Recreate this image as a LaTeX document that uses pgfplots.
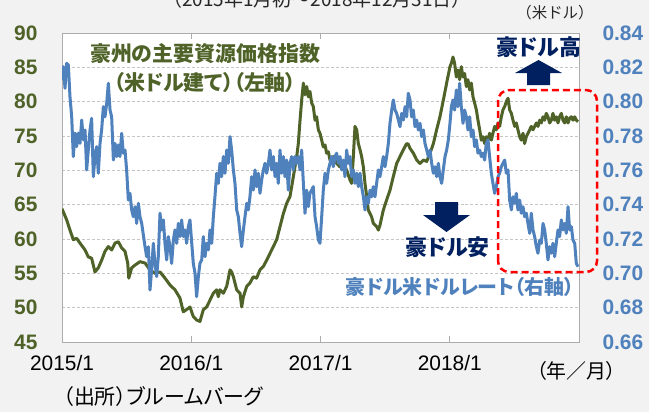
\documentclass[border=0pt]{standalone}
\usepackage{fontspec}
\setmainfont{Liberation Sans}
\newfontfamily\jp{Noto Sans CJK JP}[RawFeature=+palt]
\newfontfamily\jpf{Noto Sans CJK JP}
\usepackage{pgfplots}
\pgfplotsset{compat=1.18}
\definecolor{olv}{HTML}{4F6228}
\definecolor{blu}{HTML}{4F81BD}
\definecolor{nvy}{HTML}{002060}
\definecolor{bg}{HTML}{F2F2F2}
\newcommand{\fs}[1]{\fontsize{#1}{#1}\selectfont}
\begin{document}
\begin{tikzpicture}[x=1bp,y=1bp]
\fill[bg] (0,0) rectangle (649,412);
\begin{axis}[
  at={(62bp,70bp)}, anchor=south west,
  width=517bp, height=309bp, scale only axis,
  xmin=0, xmax=48, ymin=45, ymax=90,
  axis background/.style={fill=white},
  axis line style={draw=gray!65, line width=0.9bp},
  ytick={45,50,...,90},
  ymajorgrids, major grid style={densely dashed, draw=gray!45, line width=0.6bp},
  xtick={0,12,24,36}, xticklabels={2015/1,2016/1,2017/1,2018/1},
  tick align=inside, major tick length=6bp,
  xtick style={draw=gray!65, line width=0.9bp},
  ytick style={draw=none},
  /pgf/number format/assume math mode=true,
  yticklabel style={font=\fs{21}\bfseries, text=olv, xshift=-21bp},
  xticklabel style={font=\fs{21}, text=black, yshift=-10bp},
]
\addplot[olv, line width=3bp, line join=round] coordinates {
(0,64.4)(0.43,62.8)(0.74,61.3)(1.05,59.9)(1.36,60.1)(1.67,59.4)(2.14,58.4)(2.44,57.4)(2.75,57.2)(3.06,55.2)(3.37,55.8)(3.68,56.9)(3.99,58.2)(4.30,58.9)(4.61,58.4)(4.92,59.4)(5.23,59.6)(5.54,58.7)(5.85,58.2)(6.10,56.5)(6.20,54.3)(6.47,55.8)(6.78,56.2)(7.24,56.7)(7.71,56.5)(8.17,55.5)(8.63,55.0)(9.10,55.2)(9.56,54.3)(10.03,53.3)(10.49,52.6)(10.95,51.4)(11.26,49.4)(11.73,49.9)(11.88,50.1)(12.19,48.7)(12.50,48.2)(12.81,48.0)(13.12,49.7)(13.43,50.1)(13.74,51.1)(14.05,52.1)(14.36,52.6)(14.51,51.6)(14.67,52.6)(14.98,52.1)(15.29,53.1)(15.60,55.5)(15.75,55.2)(15.91,54.5)(16.22,52.6)(16.53,52.1)(16.68,50.1)(16.84,51.6)(17.15,53.1)(17.45,53.6)(17.76,54.5)(18.07,54.3)(18.38,55.5)(18.69,56.0)(19.00,56.9)(19.31,57.9)(19.62,58.9)(19.93,59.9)(20.24,61.8)(20.55,63.7)(20.86,65.2)(21.17,66.2)(21.32,67.6)(21.48,69.1)(21.63,70.5)(21.79,72.0)(21.94,73.9)(22.10,77.3)(22.25,80.2)(22.41,82.7)(22.56,81.0)(22.72,82.2)(22.87,80.7)(23.02,81.5)(23.18,79.8)(23.33,79.3)(23.49,77.3)(23.64,77.8)(23.80,75.9)(23.95,75.4)(24.11,74.4)(24.26,73.4)(24.42,73.7)(24.57,72.5)(24.73,72.7)(24.88,71.5)(25.19,72.0)(25.50,71.0)(25.81,70.5)(26.12,71.0)(26.43,70.0)(26.74,68.6)(26.89,68.1)(27.05,72.0)(27.20,76.4)(27.36,75.9)(27.51,73.9)(27.67,73.0)(27.82,72.0)(27.98,70.5)(28.13,68.1)(28.29,66.2)(28.44,64.2)(28.60,63.7)(28.75,63.2)(28.90,62.3)(29.21,61.8)(29.37,61.3)(29.52,62.0)(29.83,64.2)(30.14,65.7)(30.45,67.1)(30.76,69.1)(31.07,71.0)(31.38,72.0)(31.69,73.0)(32.00,73.9)(32.15,73.8)(32.31,73.2)(32.62,72.5)(32.93,71.5)(33.24,71.0)(33.55,71.5)(33.86,71.3)(34.17,72.5)(34.48,73.9)(34.78,75.9)(35.09,77.8)(35.40,80.2)(35.71,82.7)(36.02,85.1)(36.15,85.6)(36.30,86.5)(36.45,85.6)(36.61,83.6)(36.76,84.6)(36.92,83.2)(37.07,85.1)(37.23,83.6)(37.38,84.1)(37.54,82.2)(37.69,83.2)(37.85,81.7)(38.00,82.7)(38.16,80.7)(38.31,79.8)(38.47,78.8)(38.62,77.3)(38.78,75.9)(38.93,74.4)(39.08,74.9)(39.24,73.9)(39.39,74.9)(39.55,74.4)(39.70,75.4)(39.86,74.4)(40.01,75.4)(40.17,76.4)(40.32,75.9)(40.48,76.9)(40.63,76.4)(40.79,77.8)(40.94,78.8)(41.10,79.3)(41.25,80.0)(41.41,80.5)(41.56,78.8)(41.72,78.3)(41.87,77.3)(42.03,76.4)(42.18,76.9)(42.33,75.9)(42.49,74.9)(42.64,74.4)(42.80,75.4)(42.95,73.9)(43.11,74.9)(43.26,75.4)(43.42,75.9)(43.57,76.4)(43.73,75.9)(43.88,76.4)(44.04,76.9)(44.19,76.4)(44.35,77.3)(44.50,76.9)(44.66,77.8)(44.81,77.3)(44.96,78.3)(45.12,77.8)(45.27,76.9)(45.43,77.3)(45.58,78.3)(45.74,77.3)(45.89,77.8)(46.05,76.9)(46.20,77.8)(46.36,78.3)(46.51,77.3)(46.67,76.9)(46.82,77.8)(46.98,76.9)(47.13,77.6)(47.29,77.8)(47.44,77.3)(47.60,77.8)(47.75,77.3)(47.91,77.1)
};
\end{axis}
\begin{axis}[
  at={(62bp,70bp)}, anchor=south west,
  width=517bp, height=309bp, scale only axis,
  xmin=0, xmax=48, ymin=0.66, ymax=0.84,
  axis y line*=right, axis x line=none,
  axis line style={draw=none},
  ytick={0.66,0.68,...,0.84},
  ytick style={draw=none},
  /pgf/number format/assume math mode=true,
  yticklabel style={font=\fs{21}\bfseries, text=blu, xshift=20bp,
    /pgf/number format/.cd, fixed, fixed zerofill, precision=2},
]
\addplot[blu, line width=3bp, line join=round] coordinates {
(0,0.8126)(0.12,0.8204)(0.28,0.8078)(0.43,0.8223)(0.59,0.8214)(0.74,0.8029)(0.90,0.7912)(1.05,0.768)(1.21,0.7817)(1.36,0.7738)(1.52,0.7817)(1.67,0.7757)(1.83,0.7893)(1.98,0.7777)(2.14,0.7835)(2.29,0.7602)(2.44,0.7718)(2.60,0.7835)(2.75,0.7903)(2.91,0.7563)(3.06,0.768)(3.22,0.7738)(3.37,0.7583)(3.53,0.7757)(3.68,0.7835)(3.84,0.7971)(3.99,0.7912)(4.15,0.799)(4.30,0.8107)(4.46,0.7951)(4.61,0.7912)(4.77,0.766)(4.92,0.7757)(5.08,0.768)(5.23,0.7748)(5.38,0.768)(5.54,0.7816)(5.69,0.77)(5.85,0.7718)(6.00,0.7602)(6.16,0.7427)(6.31,0.7466)(6.47,0.7369)(6.62,0.733)(6.78,0.7388)(6.93,0.7291)(7.09,0.7408)(7.24,0.733)(7.40,0.7291)(7.71,0.7155)(7.86,0.7097)(8.02,0.7155)(8.17,0.6903)(8.32,0.702)(8.48,0.7175)(8.63,0.7058)(8.79,0.6981)(8.94,0.7097)(9.10,0.735)(9.25,0.7253)(9.41,0.7311)(9.56,0.7175)(9.72,0.7078)(9.87,0.7214)(10.03,0.7155)(10.18,0.7058)(10.34,0.7194)(10.49,0.7253)(10.65,0.7175)(10.80,0.7291)(10.95,0.7214)(11.11,0.7311)(11.26,0.7214)(11.42,0.7253)(11.57,0.7175)(11.73,0.7272)(11.88,0.7311)(12.19,0.7058)(12.35,0.70)(12.50,0.6864)(12.66,0.6981)(12.81,0.7058)(12.97,0.7078)(13.12,0.7214)(13.28,0.7097)(13.43,0.7175)(13.59,0.7136)(13.74,0.7253)(13.90,0.7175)(14.05,0.733)(14.20,0.7446)(14.36,0.7583)(14.51,0.7524)(14.67,0.7641)(14.82,0.7563)(14.98,0.768)(15.13,0.7583)(15.29,0.7718)(15.44,0.7641)(15.60,0.7796)(15.75,0.7718)(15.91,0.7602)(16.06,0.7524)(16.22,0.7369)(16.37,0.733)(16.53,0.7233)(16.68,0.7155)(16.84,0.7253)(16.99,0.733)(17.15,0.7408)(17.30,0.7369)(17.45,0.7446)(17.61,0.7563)(17.76,0.7485)(17.92,0.7602)(18.07,0.7505)(18.23,0.7583)(18.38,0.7466)(18.54,0.7544)(18.69,0.7602)(18.85,0.7641)(19.00,0.7583)(19.16,0.7641)(19.31,0.7718)(19.47,0.7602)(19.62,0.768)(19.78,0.7563)(19.93,0.7641)(20.08,0.7524)(20.24,0.7718)(20.39,0.7583)(20.55,0.768)(20.70,0.7563)(20.86,0.766)(21.01,0.7485)(21.17,0.7641)(21.32,0.768)(21.48,0.7602)(21.63,0.768)(21.79,0.7641)(21.94,0.768)(22.10,0.7602)(22.25,0.7718)(22.41,0.7524)(22.56,0.735)(22.72,0.7485)(22.87,0.7388)(23.02,0.7466)(23.18,0.7485)(23.33,0.7505)(23.49,0.733)(23.64,0.7272)(23.80,0.7194)(23.95,0.7175)(24.11,0.733)(24.26,0.7485)(24.42,0.7583)(24.57,0.7524)(24.73,0.7602)(24.88,0.7641)(25.04,0.768)(25.19,0.7621)(25.35,0.768)(25.50,0.77)(25.66,0.7641)(25.81,0.768)(25.97,0.7602)(26.12,0.766)(26.27,0.7563)(26.43,0.7718)(26.58,0.7641)(26.74,0.768)(26.89,0.7563)(27.05,0.7602)(27.20,0.7524)(27.36,0.7583)(27.51,0.7505)(27.67,0.7583)(27.82,0.7505)(27.98,0.7446)(28.13,0.7369)(28.29,0.7446)(28.44,0.7408)(28.60,0.7485)(28.75,0.7446)(28.90,0.7505)(29.06,0.7446)(29.21,0.7524)(29.37,0.7602)(29.52,0.7563)(29.68,0.7621)(29.83,0.768)(29.99,0.7621)(30.14,0.768)(30.30,0.7757)(30.45,0.7874)(30.61,0.7951)(30.76,0.801)(30.92,0.7951)(31.07,0.7932)(31.23,0.7893)(31.38,0.7854)(31.54,0.7932)(31.69,0.7893)(31.85,0.7971)(32.00,0.7912)(32.15,0.8049)(32.31,0.801)(32.46,0.7912)(32.62,0.7951)(32.77,0.7854)(32.93,0.7893)(33.08,0.7835)(33.24,0.7874)(33.39,0.7796)(33.55,0.7835)(33.70,0.7757)(33.86,0.7718)(34.01,0.768)(34.17,0.7718)(34.32,0.7641)(34.48,0.7583)(34.63,0.7621)(34.78,0.7563)(34.94,0.7641)(35.09,0.7563)(35.25,0.7524)(35.40,0.7602)(35.56,0.768)(35.71,0.7718)(35.87,0.7777)(36.02,0.7874)(36.15,0.7971)(36.30,0.801)(36.45,0.7951)(36.61,0.8068)(36.76,0.7971)(36.92,0.8107)(37.07,0.7971)(37.23,0.7874)(37.38,0.7951)(37.54,0.7912)(37.69,0.7835)(37.85,0.7912)(38.00,0.7796)(38.16,0.7835)(38.31,0.7738)(38.47,0.7777)(38.62,0.77)(38.78,0.7718)(38.93,0.768)(39.08,0.77)(39.24,0.766)(39.39,0.7757)(39.55,0.7777)(39.70,0.768)(39.86,0.7583)(40.01,0.7524)(40.17,0.7466)(40.32,0.7505)(40.48,0.7563)(40.63,0.7583)(40.79,0.7621)(40.94,0.7641)(41.10,0.766)(41.25,0.7583)(41.41,0.7602)(41.56,0.7427)(41.72,0.7369)(41.87,0.7446)(42.03,0.7408)(42.18,0.7466)(42.33,0.7369)(42.49,0.7427)(42.64,0.735)(42.80,0.7388)(42.95,0.733)(43.11,0.735)(43.26,0.7291)(43.42,0.7233)(43.57,0.735)(43.73,0.7253)(43.88,0.7214)(44.04,0.7155)(44.19,0.7117)(44.35,0.7194)(44.50,0.7175)(44.66,0.7291)(44.81,0.7253)(44.96,0.7175)(45.12,0.7078)(45.27,0.7155)(45.43,0.7117)(45.58,0.7175)(45.74,0.7097)(45.89,0.7175)(46.05,0.7253)(46.20,0.7214)(46.36,0.7311)(46.51,0.7253)(46.67,0.7291)(46.82,0.7233)(46.98,0.7388)(47.13,0.7253)(47.29,0.7272)(47.44,0.7194)(47.60,0.7175)(47.75,0.7058)(47.91,0.7039)
};
\end{axis}
% annotations
\node[font=\jpf\fs{19}, text=black!85, anchor=base] at (317,405) {（2015年1月初～2018年12月31日）};
\node[font=\jpf\fs{15.5}, text=black!85] at (555,399) {（米ドル）};
\node[font=\jp\fs{21}\bfseries, text=olv] at (205,358) {豪州の主要資源価格指数};
\node[font=\jp\fs{21}\bfseries, text=olv] at (205,329) {（米ドル建て）（左軸）};
\node[font=\jp\fs{20}\bfseries, text=blu] at (460,125) {豪ドル米ドルレート（右軸）};
\node[font=\jp\fs{22}\bfseries, text=nvy] at (539,364.5) {豪ドル高};
\node[font=\jp\fs{22}\bfseries, text=nvy] at (447.5,164.5) {豪ドル安};
\fill[nvy] (538.5,352) -- (562,339) -- (550,339) -- (550,327) -- (527,327) -- (527,339) -- (515,339) -- cycle;
\fill[nvy] (446.5,180) -- (470,197) -- (458,197) -- (458,210) -- (435,210) -- (435,197) -- (423,197) -- cycle;
\draw[red, line width=2.5bp, dash pattern=on 7bp off 4bp, rounded corners=11bp] (498,140) rectangle (597,322);
\node[font=\jp\fs{20}, text=black, anchor=west] at (533,41) {（年／月）};
\node[font=\jp\fs{21}, text=black, anchor=west] at (60,15) {（出所）ブルームバーグ};
\pgfresetboundingbox
\path (0,0) rectangle (649,412);
\end{tikzpicture}
\end{document}
